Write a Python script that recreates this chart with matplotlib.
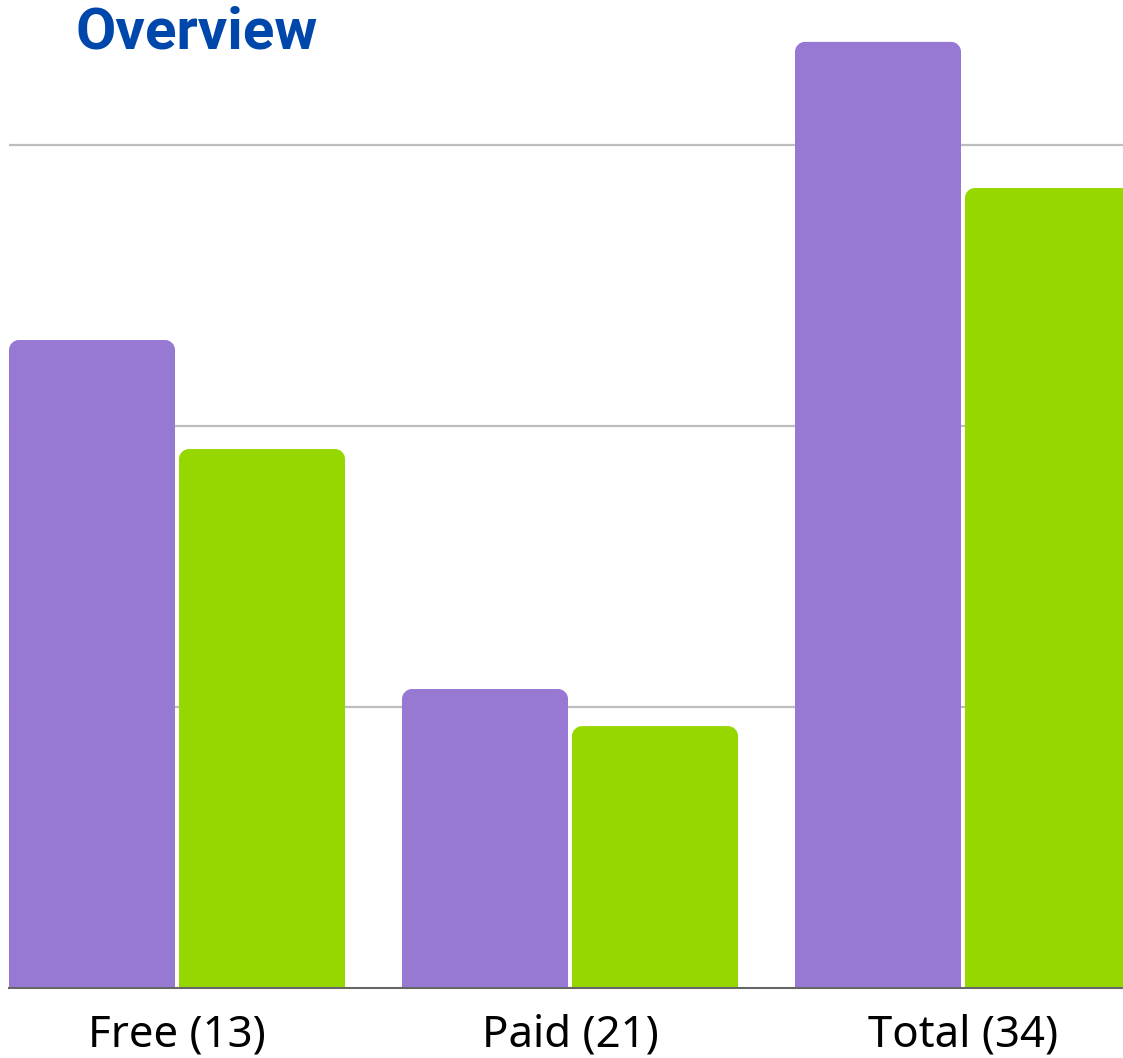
import numpy as np
import matplotlib.pyplot as plt
from matplotlib.path import Path
from matplotlib.patches import PathPatch

categories = ['Free (13)', 'Paid (21)', 'Total (34)']
series_a = [23.06, 10.64, 33.67]
series_b = [19.18, 9.32, 28.47]
colors = ['#9779D4', '#97D700']

W, H = 1123, 1058
fig = plt.figure(figsize=(W / 100, H / 100), dpi=100)
ax = fig.add_axes([9 / W, 70 / H, (W - 9) / W, 988 / H])

x0, x1 = -0.4275, 2.0 + 160 / 393
y0, y1 = 0, 988 / 28.1
ax.set_xlim(x0, x1)
ax.set_ylim(y0, y1)

# pixel -> data scale, used for rounded corners
px_x = (x1 - x0) / (W - 9)
px_y = (y1 - y0) / 988


def rounded_bar(ax, xc, width, height, color, r=10):
    rx, ry = r * px_x, r * px_y
    l, rr = xc - width / 2, xc + width / 2
    k = 0.5523
    verts = [
        (l, 0), (l, height - ry),
        (l, height - ry + k * ry), (l + rx - k * rx, height), (l + rx, height),
        (rr - rx, height),
        (rr - rx + k * rx, height), (rr, height - ry + k * ry), (rr, height - ry),
        (rr, 0), (l, 0),
    ]
    codes = [Path.MOVETO, Path.LINETO,
             Path.CURVE4, Path.CURVE4, Path.CURVE4,
             Path.LINETO,
             Path.CURVE4, Path.CURVE4, Path.CURVE4,
             Path.LINETO, Path.CLOSEPOLY]
    ax.add_patch(PathPatch(Path(verts, codes), facecolor=color,
                           edgecolor='none', zorder=3))


bw = 166 / 393
off = 85 / 393
xs = np.arange(len(categories))
for i in xs:
    rounded_bar(ax, i - off, bw, series_a[i], colors[0])
    rounded_bar(ax, i + off, bw, series_b[i], colors[1])

for g in [10, 20, 30]:
    ax.axhline(g, color='#bdbdbd', lw=1.6, zorder=1)

for s in ['top', 'left', 'right']:
    ax.spines[s].set_visible(False)
ax.spines['bottom'].set_color('#666666')
ax.spines['bottom'].set_linewidth(1.5)
ax.spines['bottom'].set_zorder(4)

ax.set_yticks([])
ax.set_xticks(xs)
ax.set_xticklabels(categories, fontsize=31.5, family='Noto Sans', color='black')
ax.tick_params(axis='x', length=0, pad=18)

fig.text(75 / W, 1 - 33 / H, 'Overview', fontsize=42, fontweight='bold',
         family='Roboto', color='#0047AB', va='center', ha='left')

fig.savefig('out.png', dpi=100)
